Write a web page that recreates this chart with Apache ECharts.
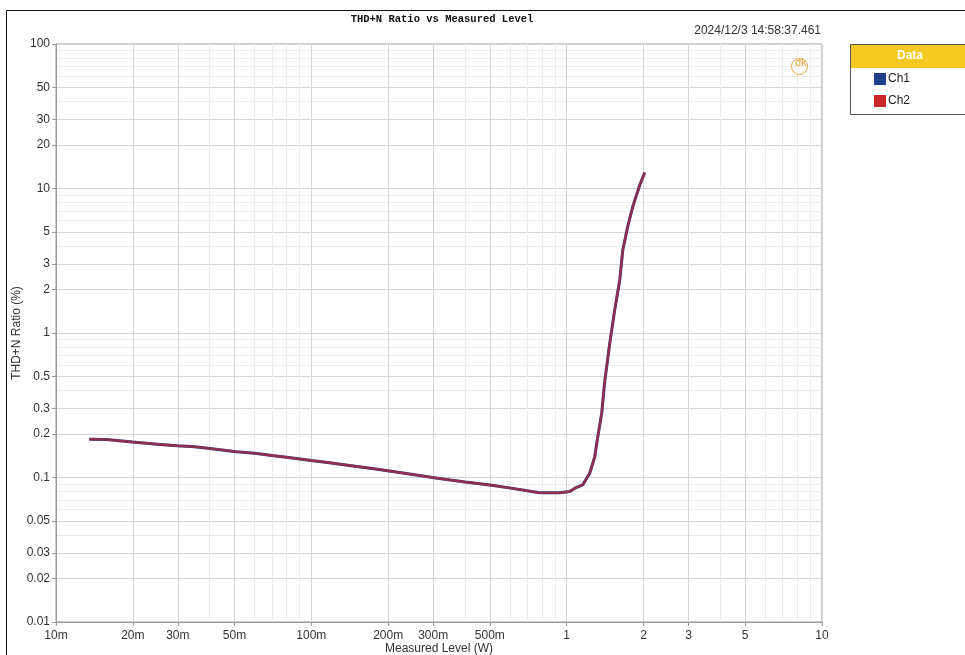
<!DOCTYPE html>
<html>
<head>
<meta charset="utf-8">
<script src="https://cdn.jsdelivr.net/npm/echarts@6/dist/echarts.min.js"></script>
<style>
html,body{margin:0;padding:0;background:#fff;}
#chart{width:965px;height:655px;}
</style>
</head>
<body>
<div id="chart"></div>
<script>
// Measured level (W)
const levels = [0.0135, 0.0158, 0.0199, 0.025, 0.0298, 0.035, 0.040, 0.0508, 0.060, 0.070, 0.080, 0.100, 0.120, 0.141, 0.170, 0.202, 0.250, 0.298, 0.350, 0.400, 0.500, 0.614, 0.700, 0.784, 0.880, 0.940, 1.028, 1.094, 1.156, 1.231, 1.288, 1.323, 1.372, 1.409, 1.475, 1.542, 1.614, 1.659, 1.734, 1.815, 1.933, 2.023];
// THD+N ratio (%)
const ch1 = [0.184, 0.183, 0.176, 0.170, 0.166, 0.163, 0.159, 0.151, 0.147, 0.142, 0.138, 0.131, 0.126, 0.121, 0.116, 0.111, 0.105, 0.100, 0.096, 0.093, 0.0887, 0.0841, 0.081, 0.0785, 0.0783, 0.0785, 0.080, 0.0855, 0.089, 0.107, 0.139, 0.19, 0.28, 0.46, 0.85, 1.44, 2.33, 3.75, 5.44, 7.48, 10.57, 12.9];
const ch2 = [0.184, 0.183, 0.176, 0.170, 0.166, 0.163, 0.159, 0.151, 0.147, 0.142, 0.138, 0.131, 0.126, 0.121, 0.116, 0.111, 0.105, 0.100, 0.096, 0.093, 0.0887, 0.0841, 0.081, 0.0785, 0.0783, 0.0785, 0.080, 0.0855, 0.089, 0.107, 0.139, 0.19, 0.28, 0.46, 0.85, 1.44, 2.33, 3.75, 5.44, 7.48, 10.57, 12.9];
// tick labels
const xTicks = [0.01, 0.02, 0.03, 0.05, 0.1, 0.2, 0.3, 0.5, 1, 2, 3, 5, 10];
const xMinor = [0.04, 0.06, 0.07, 0.08, 0.09, 0.4, 0.6, 0.7, 0.8, 0.9, 4, 6, 7, 8, 9];
const yTicks = [0.01, 0.02, 0.03, 0.05, 0.1, 0.2, 0.3, 0.5, 1, 2, 3, 5, 10, 20, 30, 50, 100];
const yMinor = [0.04, 0.06, 0.07, 0.08, 0.09, 0.4, 0.6, 0.7, 0.8, 0.9, 4, 6, 7, 8, 9, 40, 60, 70, 80, 90];

const FONT = '"Liberation Sans", Arial, sans-serif';
const chart = echarts.init(document.getElementById('chart'), null, {renderer: 'canvas'});

function xFmt(v) {
  if (v < 1) return Math.round(v * 1000) + 'm';
  return String(Math.round(v));
}
function yFmt(v) {
  return String(parseFloat(v.toPrecision(3)));
}

const grid = {left: 56, right: 143, top: 44, bottom: 33, containLabel: false, outerBoundsMode: 'none', show: true, borderColor: '#9a9a9a', borderWidth: 1, backgroundColor: 'transparent'};

const option = {
  animation: false,
  backgroundColor: '#ffffff',
  title: {
    text: 'THD+N Ratio vs Measured Level',
    left: 437, top: 9, textAlign: 'center',
    textStyle: {fontFamily: '"Liberation Mono", monospace', fontWeight: 'bold', fontSize: 10.5, color: '#111'}
  },
  grid: [grid],
  legend: {
    orient: 'vertical', left: 869, top: 68, itemGap: 10, itemWidth: 12, itemHeight: 12,
    icon: 'rect',
    textStyle: {fontFamily: FONT, fontSize: 12, color: '#222', padding: [0, 0, 0, -3]},
    data: ['Ch1', 'Ch2']
  },
  xAxis: [
    {
      type: 'log', logBase: 10, min: 0.01, max: 10, gridIndex: 0,
      name: 'Measured Level (W)', nameLocation: 'middle', nameGap: 21, nameMoveOverlap: false,
      nameTextStyle: {fontFamily: FONT, fontSize: 12, color: '#333'},
      axisLine: {show: true, onZero: false, lineStyle: {color: '#9a9a9a'}},
      axisTick: {show: true, length: 4, customValues: xTicks, lineStyle: {color: '#9a9a9a'}},
      axisLabel: {customValues: xTicks, formatter: xFmt, margin: 8, fontFamily: FONT, fontSize: 12, color: '#333', showMinLabel: true, showMaxLabel: true, hideOverlap: false},
      splitLine: {show: true, customValues: xTicks, lineStyle: {color: '#d4d4d4', width: 1}},
      minorTick: {show: false}, minorSplitLine: {show: false}
    },
    {
      type: 'log', logBase: 10, min: 0.01, max: 10, gridIndex: 0, position: 'bottom',
      axisLine: {show: false}, axisTick: {show: false, customValues: xMinor}, axisLabel: {show: false, customValues: xMinor},
      splitLine: {show: true, customValues: xMinor, lineStyle: {color: '#ececec', width: 1}}
    }
  ],
  yAxis: [
    {
      type: 'log', logBase: 10, min: 0.01, max: 100, gridIndex: 0,
      name: 'THD+N Ratio (%)', nameLocation: 'middle', nameGap: 33, nameMoveOverlap: false,
      nameTextStyle: {fontFamily: FONT, fontSize: 12, color: '#333'},
      axisLine: {show: true, onZero: false, lineStyle: {color: '#9a9a9a'}},
      axisTick: {show: true, length: 4, customValues: yTicks, lineStyle: {color: '#9a9a9a'}},
      axisLabel: {customValues: yTicks, formatter: yFmt, margin: 6, fontFamily: FONT, fontSize: 12, color: '#333', showMinLabel: true, showMaxLabel: true, hideOverlap: false},
      splitLine: {show: true, customValues: yTicks, lineStyle: {color: '#d4d4d4', width: 1}},
      minorTick: {show: false}, minorSplitLine: {show: false}
    },
    {
      type: 'log', logBase: 10, min: 0.01, max: 100, gridIndex: 0, position: 'left',
      axisLine: {show: false}, axisTick: {show: false, customValues: yMinor}, axisLabel: {show: false, customValues: yMinor},
      splitLine: {show: true, customValues: yMinor, lineStyle: {color: '#ececec', width: 1}}
    }
  ],
  series: [
    {
      name: 'Ch1', type: 'line', xAxisIndex: 0, yAxisIndex: 0, showSymbol: false, symbol: 'none', smooth: false,
      color: '#1f3e8e',
      lineStyle: {color: '#1f3e8e', width: 3},
      data: levels.map((x, i) => [x, ch1[i]]), z: 3
    },
    {
      name: 'Ch2', type: 'line', xAxisIndex: 0, yAxisIndex: 0, showSymbol: false, symbol: 'none', smooth: false,
      color: '#c9262b',
      lineStyle: {color: '#c9262b', width: 2.4, opacity: 0.68},
      data: levels.map((x, i) => [x, ch2[i]]), z: 4
    }
  ],
  graphic: [
    {type: 'rect', left: 4, top: 8, z: -1, silent: true, shape: {width: 990, height: 700}, style: {fill: 'none', stroke: '#111', lineWidth: 1}},
    {type: 'text', right: 144, top: 25, silent: true, style: {text: '2024/12/3 14:58:37.461', fontFamily: FONT, fontSize: 12, fill: '#333'}},
    {type: 'rect', left: 850, top: 44, silent: true, shape: {width: 130, height: 70}, style: {fill: '#fff', stroke: '#555', lineWidth: 1}, z: 1},
    {type: 'rect', left: 851, top: 45, silent: true, shape: {width: 130, height: 23}, style: {fill: '#f5c922', stroke: 'none'}, z: 2},
    {type: 'text', left: 897, top: 50, silent: true, style: {text: 'Data', fontFamily: FONT, fontSize: 12, fontWeight: 'bold', fill: '#fff'}, z: 3},
    {type: 'circle', left: 789, top: 56, silent: true, shape: {r: 8}, style: {fill: 'none', stroke: '#e9a23b', lineWidth: 1}, z: 3},
    {type: 'text', left: 795, top: 57, silent: true, style: {text: 'dk', fontFamily: FONT, fontSize: 11, fill: '#e9a23b'}, z: 3}
  ]
};
chart.setOption(option);
</script>
</body>
</html>
